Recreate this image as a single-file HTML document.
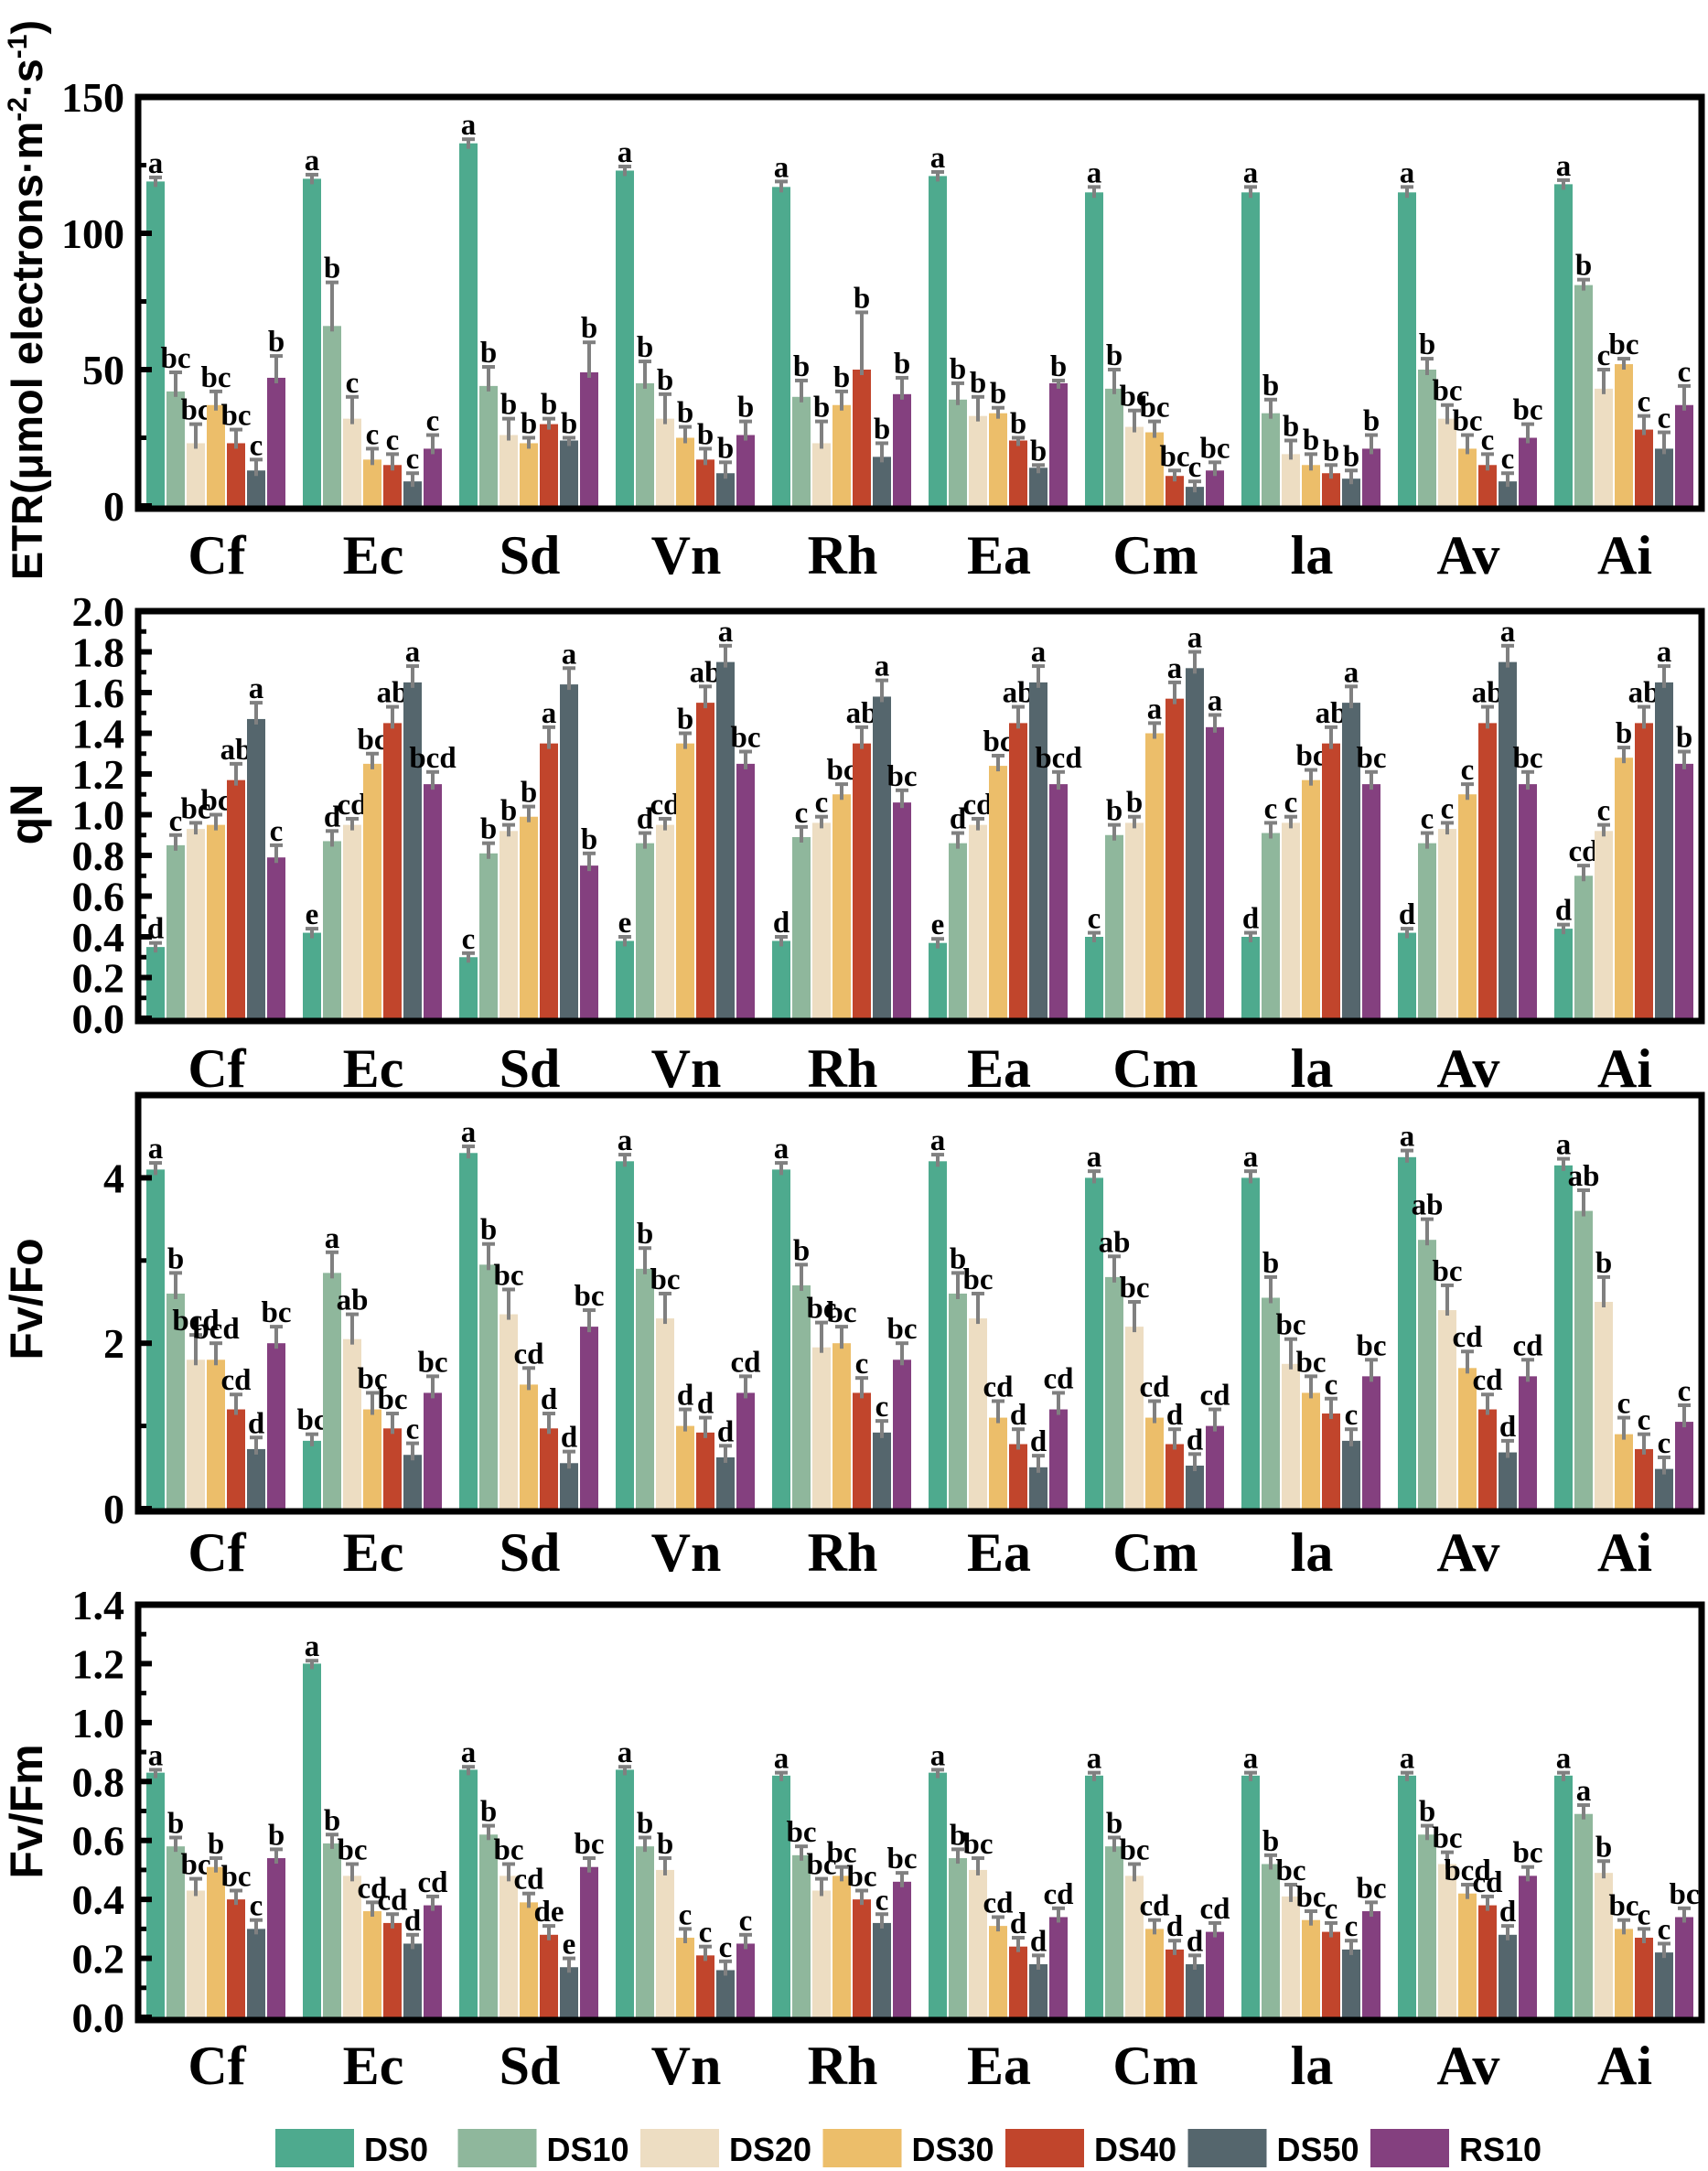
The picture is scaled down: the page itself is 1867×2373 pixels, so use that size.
<!DOCTYPE html>
<html><head><meta charset="utf-8"><style>
html,body{margin:0;padding:0;background:#fff;}
svg{display:block;}
</style></head><body>
<svg id="s" width="1867" height="2373" xmlns="http://www.w3.org/2000/svg"></svg>
<script>
const C=["#4EAA8E","#8FB79C","#EDDDC2","#ECBE6A","#C1452C","#55666D","#84407F"];
const G=["Cf","Ec","Sd","Vn","Rh","Ea","Cm","la","Av","Ai"];
const panels=[
{y0:553,y1:106,max:150,major:[0,50,100,150],minor:[25,75,125],fmt:v=>String(v),lab:605,
d:[[119,42,23,37,23,13,47],[120,66,32,17,15,9,21],[133,44,26,23,30,24,49],[123,45,32,25,17,12,26],[117,40,23,37,50,18,41],[121,39,33,34,24,14,45],[115,43,29,27,11,7,13],[115,34,19,15,12,10,21],[115,50,32,21,15,9,25],[118,81,43,52,28,21,37]],
e:[[1.5,7,7,5,5,4,8],[1.5,16,8,4,4,3,5],[1.5,7,6,2,2,1,11],[1.5,8,9,4,4,4,5],[2,6,8,5,21,5,6],[1.5,6,7,2,1,1,1],[2,7,6,4,2,2,3],[2,5,5,4,3,3,5],[2,4,5,5,4,3,5],[1.5,2,7,2,5,6,7]],
l:[["a","bc","bc","bc","bc","c","b"],["a","b","c","c","c","c","c"],["a","b","b","b","b","b","b"],["a","b","b","b","b","b","b"],["a","b","b","b","b","b","b"],["a","b","b","b","b","b","b"],["a","b","bc","bc","bc","c","bc"],["a","b","b","b","b","b","b"],["a","b","bc","bc","c","c","bc"],["a","b","c","bc","c","c","c"]]},
{y0:1113,y1:668,max:2,major:[0,.2,.4,.6,.8,1,1.2,1.4,1.6,1.8,2],minor:[.1,.3,.5,.7,.9,1.1,1.3,1.5,1.7,1.9],fmt:v=>v.toFixed(1),lab:1166,
d:[[.35,.85,.93,.95,1.17,1.47,.79],[.42,.87,.95,1.25,1.45,1.65,1.15],[.30,.81,.92,.99,1.35,1.64,.75],[.38,.86,.95,1.35,1.55,1.75,1.25],[.38,.89,.96,1.10,1.35,1.58,1.06],[.37,.86,.95,1.24,1.45,1.65,1.15],[.40,.90,.96,1.40,1.57,1.72,1.43],[.40,.91,.96,1.17,1.35,1.55,1.15],[.42,.86,.93,1.10,1.45,1.75,1.15],[.44,.70,.92,1.28,1.45,1.65,1.25]],
e:null,ef:[.02,.05,.03,.05,.08,.08,.06],
l:[["d","c","bc","bc","ab","a","c"],["e","d","cd","bc","ab","a","bcd"],["c","b","b","b","a","a","b"],["e","d","cd","b","ab","a","bc"],["d","c","c","bc","ab","a","bc"],["e","d","cd","bc","ab","a","bcd"],["c","b","b","a","a","a","a"],["d","c","c","bc","ab","a","bc"],["d","c","c","c","ab","a","bc"],["d","cd","c","b","ab","a","b"]]},
{y0:1649,y1:1197,max:5,major:[0,2,4],minor:[1,3,5],fmt:v=>String(v),lab:1695,
d:[[4.1,2.6,1.8,1.8,1.2,.72,2.0],[.82,2.85,2.05,1.2,.97,.65,1.4],[4.3,2.95,2.35,1.5,.97,.55,2.2],[4.2,2.9,2.3,1.0,.92,.62,1.4],[4.1,2.7,1.95,2.0,1.4,.92,1.8],[4.2,2.6,2.3,1.1,.78,.5,1.2],[4.0,2.8,2.2,1.1,.78,.52,1.0],[4.0,2.55,1.75,1.4,1.15,.82,1.6],[4.25,3.25,2.4,1.7,1.2,.68,1.6],[4.15,3.6,2.5,.9,.72,.48,1.05]],
e:null,ef:[.08,.25,.3,.2,.18,.14,.2],
l:[["a","b","bcd","bcd","cd","d","bc"],["bc","a","ab","bc","bc","c","bc"],["a","b","bc","cd","d","d","bc"],["a","b","bc","d","d","d","cd"],["a","b","bc","bc","c","c","bc"],["a","b","bc","cd","d","d","cd"],["a","ab","bc","cd","d","d","cd"],["a","b","bc","bc","c","c","bc"],["a","ab","bc","cd","cd","d","cd"],["a","ab","b","c","c","c","c"]]},
{y0:2205,y1:1754,max:1.4,major:[0,.2,.4,.6,.8,1,1.2,1.4],minor:[.1,.3,.5,.7,.9,1.1,1.3],fmt:v=>v.toFixed(1),lab:2256,
d:[[.83,.58,.43,.51,.40,.30,.54],[1.20,.59,.48,.36,.32,.25,.38],[.84,.62,.48,.39,.28,.17,.51],[.84,.58,.50,.27,.21,.16,.25],[.82,.55,.43,.48,.40,.32,.46],[.83,.54,.50,.31,.24,.18,.34],[.82,.58,.48,.30,.23,.18,.29],[.82,.52,.41,.33,.29,.23,.36],[.82,.62,.52,.42,.38,.28,.48],[.82,.69,.49,.30,.27,.22,.34]],
e:null,ef:[.01,.03,.04,.03,.03,.03,.03],
l:[["a","b","bc","b","bc","c","b"],["a","b","bc","cd","cd","d","cd"],["a","b","bc","cd","de","e","bc"],["a","b","b","c","c","c","c"],["a","bc","bc","bc","bc","c","bc"],["a","b","bc","cd","d","d","cd"],["a","b","bc","cd","d","d","cd"],["a","b","bc","bc","c","c","bc"],["a","b","bc","bcd","cd","d","bc"],["a","a","b","bc","c","c","bc"]]}
];
let h="";
const serif='font-family="Liberation Serif, serif" font-weight="bold"';
const sans='font-family="Liberation Sans, sans-serif" font-weight="bold"';
panels.forEach(p=>{
 const Y=v=>p.y0-(p.y0-p.y1)*v/p.max;
 p.d.forEach((row,g)=>{
  row.forEach((v,i)=>{
   const x=160+171*g+22*i, yt=Y(v);
   const err=p.e?p.e[g][i]:p.ef[i];
   const ye=Y(v+err);
   h+=`<rect x="${x}" y="${yt}" width="20" height="${p.y0-yt}" fill="${C[i]}"/>`;
   h+=`<line x1="${x+10}" y1="${yt+6}" x2="${x+10}" y2="${ye}" stroke="#808080" stroke-width="4"/>`;
   h+=`<line x1="${x+3}" y1="${ye}" x2="${x+17}" y2="${ye}" stroke="#808080" stroke-width="4"/>`;
   h+=`<text x="${x+10}" y="${ye-5}" ${serif} font-size="33" text-anchor="middle">${p.l[g][i]}</text>`;
  });
  h+=`<text x="${160+171*g+77}" y="${p.lab+22}" ${serif} font-size="60" text-anchor="middle">${G[g]}</text>`;
 });
 h+=`<rect x="151" y="${p.y1}" width="1709" height="${p.y0-p.y1+3}" fill="none" stroke="#000" stroke-width="7"/>`;
 p.major.forEach(v=>{const y=Y(v);
  h+=`<line x1="151" y1="${y}" x2="166" y2="${y}" stroke="#000" stroke-width="6"/>`;
  h+=`<text x="136" y="${y+16}" ${serif} font-size="46" text-anchor="end">${p.fmt(v)}</text>`;});
 p.minor.forEach(v=>{const y=Y(v);
  h+=`<line x1="151" y1="${y}" x2="160" y2="${y}" stroke="#000" stroke-width="5"/>`;});
});
h+=`<text transform="translate(46,328) rotate(-90)" ${sans} font-size="47" text-anchor="middle">ETR(μmol electrons·m<tspan dy="-17" font-size="30">-2</tspan><tspan dy="17">·s</tspan><tspan dy="-17" font-size="30">-1</tspan><tspan dy="17">)</tspan></text>`;
h+=`<text transform="translate(46,890) rotate(-90)" ${sans} font-size="50" text-anchor="middle">qN</text>`;
h+=`<text transform="translate(46,1420) rotate(-90)" ${sans} font-size="50" text-anchor="middle">Fv/Fo</text>`;
h+=`<text transform="translate(46,1980) rotate(-90)" ${sans} font-size="50" text-anchor="middle">Fv/Fm</text>`;
const L=["DS0","DS10","DS20","DS30","DS40","DS50","RS10"];
L.forEach((n,i)=>{const x=301+199.5*i;
 h+=`<rect x="${x}" y="2327" width="86" height="42" fill="${C[i]}"/>`;
 h+=`<text x="${x+97}" y="2362" ${sans} font-size="36">${n}</text>`;});
document.getElementById("s").innerHTML=h;
</script>
</body></html>
